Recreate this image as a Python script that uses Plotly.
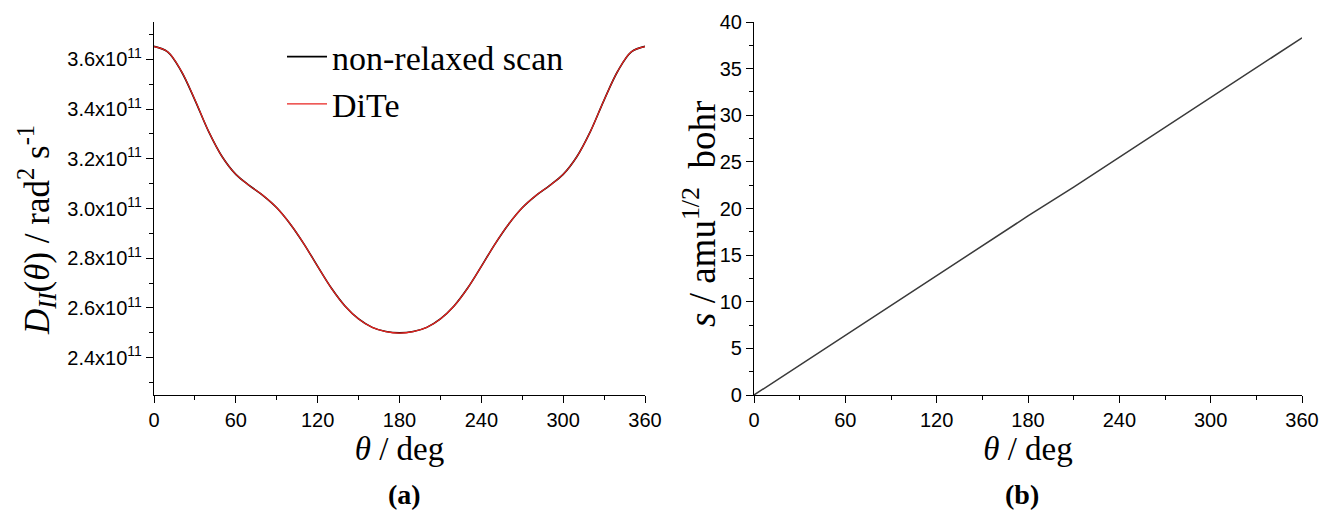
import plotly.graph_objects as go

# ---------------- data ----------------
theta_a = [0, 10, 20, 30, 40, 50, 60, 70, 80, 90, 100, 110, 120, 130, 140, 150, 160, 170, 180,
           190, 200, 210, 220, 230, 240, 250, 260, 270, 280, 290, 300, 310, 320, 330, 340, 350, 360]
d_nonrelaxed = [3.652, 3.630, 3.552, 3.436, 3.310, 3.208, 3.137, 3.092, 3.052, 3.003, 2.937, 2.857,
                2.767, 2.680, 2.608, 2.556, 2.522, 2.505, 2.500, 2.505, 2.522, 2.556, 2.608, 2.680,
                2.767, 2.857, 2.937, 3.003, 3.052, 3.092, 3.137, 3.208, 3.310, 3.436, 3.552, 3.630, 3.652]
d_dite = [3.651, 3.630, 3.553, 3.437, 3.311, 3.208, 3.137, 3.092, 3.052, 3.003, 2.937, 2.857,
          2.767, 2.680, 2.608, 2.556, 2.522, 2.505, 2.499, 2.505, 2.522, 2.556, 2.608, 2.680,
          2.767, 2.857, 2.937, 3.003, 3.052, 3.092, 3.137, 3.208, 3.310, 3.436, 3.552, 3.630, 3.651]
scale_a = 1e11

theta_b = [0, 30, 60, 90, 120, 150, 180, 210, 240, 270, 300, 330, 360]
s_path = [0.0, 3.2, 6.4, 9.6, 12.8, 16.0, 19.2, 22.3, 25.5, 28.7, 31.9, 35.1, 38.3]

x_ticks = [0, 60, 120, 180, 240, 300, 360]
ya_ticks = [2.4, 2.6, 2.8, 3.0, 3.2, 3.4, 3.6]
ya_ticktext = ["%.1fx10<sup>11</sup>" % v for v in ya_ticks]
yb_ticks = [0, 5, 10, 15, 20, 25, 30, 35, 40]

# ---------------- figure ----------------
W, H = 1322, 512
SANS = "Liberation Sans, Arial, sans-serif"
SERIF = "Liberation Serif, Times New Roman, serif"

fig = go.Figure()
fig.add_trace(go.Scatter(x=theta_a, y=[v * scale_a for v in d_nonrelaxed], mode="lines",
                         line=dict(color="black", width=1.6, shape="spline", smoothing=1.0),
                         name="non-relaxed scan", xaxis="x", yaxis="y"))
fig.add_trace(go.Scatter(x=theta_a, y=[v * scale_a for v in d_dite], mode="lines",
                         line=dict(color="#e8231f", width=1.2, shape="spline", smoothing=1.0),
                         name="DiTe", xaxis="x", yaxis="y"))
fig.add_trace(go.Scatter(x=theta_b, y=s_path, mode="lines",
                         line=dict(color="#3a3a3a", width=1.5),
                         showlegend=False, xaxis="x2", yaxis="y2"))

ydom = [1 - 395 / H, 1 - 22 / H]
axis_common = dict(showline=True, linecolor="black", linewidth=1.2, ticks="outside",
                   ticklen=7, tickwidth=1.2, tickcolor="black", showgrid=False, zeroline=False,
                   tickfont=dict(family=SANS, size=20, color="black"), automargin=False,
                   mirror=False)

fig.update_layout(
    width=W, height=H, margin=dict(l=0, r=0, t=0, b=0),
    paper_bgcolor="white", plot_bgcolor="white",
    xaxis=dict(domain=[154 / W, 645 / W], range=[0, 360], tickvals=x_ticks,
               minor=dict(dtick=30, ticks="outside", ticklen=4, tickcolor="black", tickwidth=1.2),
               title=dict(text="<i>θ</i> / deg", font=dict(family=SERIF, size=33, color="black"),
                          standoff=6),
               anchor="y", **axis_common),
    yaxis=dict(domain=ydom, range=[2.25e11, 3.75e11], tickvals=[v * scale_a for v in ya_ticks],
               ticktext=ya_ticktext,
               minor=dict(dtick=0.1e11, tick0=0, ticks="outside", ticklen=4, tickcolor="black",
                          tickwidth=1.2),
               anchor="x", **axis_common),
    xaxis2=dict(domain=[754 / W, 1302 / W], range=[0, 360], tickvals=x_ticks,
                minor=dict(dtick=30, ticks="outside", ticklen=4, tickcolor="black", tickwidth=1.2),
                title=dict(text="<i>θ</i> / deg", font=dict(family=SERIF, size=33, color="black"),
                           standoff=6),
                anchor="y2", **axis_common),
    yaxis2=dict(domain=ydom, range=[0, 40], tickvals=yb_ticks,
                minor=dict(dtick=2.5, ticks="outside", ticklen=4, tickcolor="black", tickwidth=1.2),
                anchor="x2", **axis_common),
    legend=dict(x=282 / W, y=1 - 28 / H, xanchor="left", yanchor="top",
                bgcolor="rgba(0,0,0,0)", borderwidth=0, tracegroupgap=0,
                font=dict(family=SERIF, size=34, color="black"), itemwidth=40),
    showlegend=True,
    annotations=[
        dict(text="<i>D</i><sub><i>II</i></sub>(<i>θ</i>) / rad<sup>2</sup> s<sup>-1</sup>",
             x=36 / W, y=1 - 230 / H, xref="paper", yref="paper", textangle=-90,
             xanchor="center", yanchor="middle", showarrow=False,
             font=dict(family=SERIF, size=35, color="black")),
        dict(text="<i>s</i> / amu<sup>1/2</sup>  bohr",
             x=699 / W, y=1 - 214 / H, xref="paper", yref="paper", textangle=-90,
             xanchor="center", yanchor="middle", showarrow=False,
             font=dict(family=SERIF, size=37, color="black")),
        dict(text="<b>(a)</b>", x=404 / W, y=1 - 494 / H, xref="paper", yref="paper",
             xanchor="center", yanchor="middle", showarrow=False,
             font=dict(family=SERIF, size=28, color="black")),
        dict(text="<b>(b)</b>", x=1022 / W, y=1 - 494 / H, xref="paper", yref="paper",
             xanchor="center", yanchor="middle", showarrow=False,
             font=dict(family=SERIF, size=28, color="black")),
    ],
)

fig.write_html("out.html")
